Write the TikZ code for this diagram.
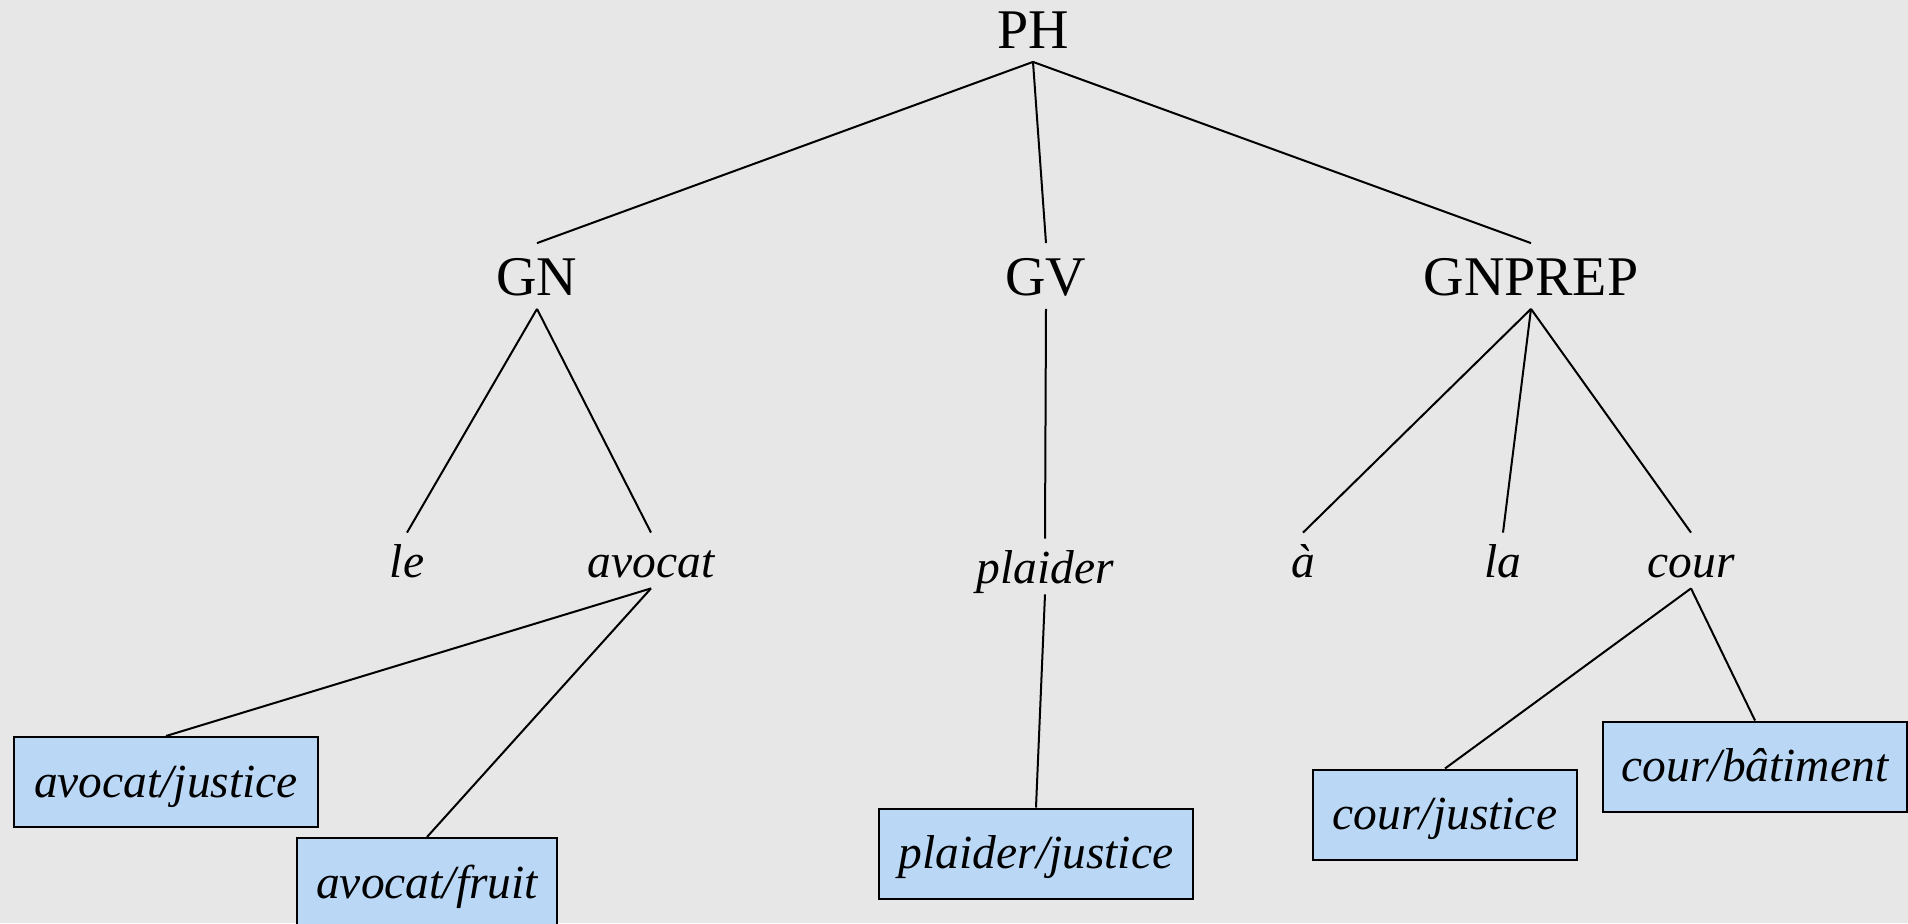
\documentclass[tikz,border=0pt]{standalone}
\usepackage{fontspec}
\setmainfont{Liberation Serif}
\definecolor{bggray}{RGB}{231,231,231}
\definecolor{boxblue}{RGB}{186,216,245}
\tikzset{
  topcat/.style={font=\fontsize{28}{30}\selectfont, text height=19pt, text depth=0pt, inner ysep=6.75pt, inner xsep=0pt, anchor=base},
  leafword/.style={font=\fontsize{23.75}{26}\selectfont\itshape, text height=16.5pt, text depth=0pt, inner ysep=5.5pt, inner xsep=0pt, anchor=base},
  sensebox/.style={draw=black, line width=1pt, fill=boxblue, font=\fontsize{23.75}{26}\selectfont\itshape, text height=19.5pt, text depth=4.5pt, inner sep=0pt, minimum height=45pt},
  branch/.style={line width=1pt, black}
}
\begin{document}
\begin{tikzpicture}[x=0.5pt,y=-0.5pt]
\fill[bggray] (0,0) rectangle (1908,923);
\useasboundingbox (0,0) rectangle (1908,923);
% categories
\node[topcat] (PH) at (1033,48) {PH};
\node[topcat] (GN) at (537,295) {GN};
\node[topcat] (GV) at (1046,295) {GV};
\node[topcat] (GNPREP) at (1531,295) {GNPREP};
% words
\node[leafword] (le) at (407,577) {le};
\node[leafword] (avocat) at (651,577) {avocat};
\node[leafword] (plaider) at (1045,583) {plaider};
\node[leafword] (a) at (1303,577) {à};
\node[leafword] (la) at (1503,577) {la};
\node[leafword] (cour) at (1691,577) {cour};
% senses
\node[sensebox, minimum width=152pt] (avj) at (166,782) {avocat/justice};
\node[sensebox, minimum width=130pt] (avf) at (427,883) {avocat/fruit};
\node[sensebox, minimum width=157pt] (plj) at (1036,853.5) {plaider/justice};
\node[sensebox, minimum width=132pt] (coj) at (1445,814.5) {cour/justice};
\node[sensebox, minimum width=152pt] (cob) at (1755,766.5) {cour/bâtiment};
% branches
\draw[branch] (PH.south) -- (GN.north);
\draw[branch] (PH.south) -- (GV.north);
\draw[branch] (PH.south) -- (GNPREP.north);
\draw[branch] (GN.south) -- (le.north);
\draw[branch] (GN.south) -- (avocat.north);
\draw[branch] (GV.south) -- (plaider.north);
\draw[branch] (GNPREP.south) -- (a.north);
\draw[branch] (GNPREP.south) -- (la.north);
\draw[branch] (GNPREP.south) -- (cour.north);
\draw[branch] (avocat.south) -- (avj.north);
\draw[branch] (avocat.south) -- (avf.north);
\draw[branch] (plaider.south) -- (plj.north);
\draw[branch] (cour.south) -- (coj.north);
\draw[branch] (cour.south) -- (cob.north);
\end{tikzpicture}
\end{document}
